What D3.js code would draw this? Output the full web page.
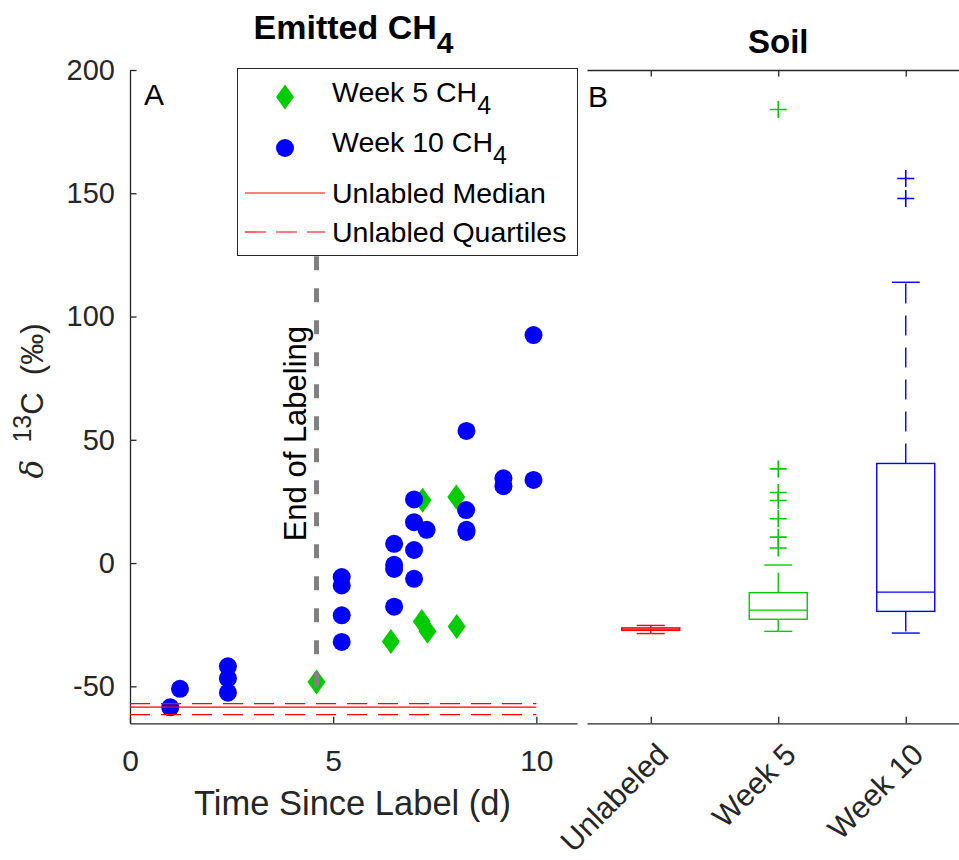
<!DOCTYPE html>
<html>
<head>
<meta charset="utf-8">
<script src="https://cdn.jsdelivr.net/npm/d3@7"></script>
<style>
  body { margin: 0; background: #fff; }
  text { font-family: Arial, "Liberation Sans", Helvetica, sans-serif; }
</style>
</head>
<body>
<script>
// emitted CH4, week 5 (days since label, d13C permil)
const week5Days = [4.59, 6.42, 7.18, 7.32, 8.04, 7.20, 8.03];
const week5D13C = [-48.2, -31.8, -23.7, -27.7, -25.7, 25.5, 26.8];

// emitted CH4, week 10
const week10Days = [0.99, 1.23, 2.41, 2.41, 2.41, 5.21, 5.21, 5.21, 5.21,
  6.50, 6.50, 6.50, 6.50, 6.99, 6.99, 6.99, 6.99, 7.30,
  8.28, 8.27, 8.28, 8.28, 9.19, 9.19, 9.93, 9.93];
const week10D13C = [-58.5, -51.0, -41.9, -46.8, -52.6, -5.7, -9.1, -21.2, -32.0,
  7.8, -0.7, -2.4, -17.7, 25.8, 16.6, 5.3, -6.4, 13.5,
  53.6, 21.5, 13.5, 12.6, 34.4, 31.2, 33.7, 92.5];

// unlabeled reference lines
const unlabeledMedian = -58.4;
const unlabeledQuartiles = [-57.0, -61.5];
const endOfLabeling = 4.59;

const xTicksA = [0, 5, 10];
const yTicks = [-50, 0, 50, 100, 150, 200];

// soil boxplots
const soilGroups = ["Unlabeled", "Week 5", "Week 10"];
const soilLowWhisker = [-28.6, -27.7, -28.4];
const soilQ1 = [-27.3, -22.8, -19.6];
const soilMedian = [-26.8, -19.1, -11.8];
const soilQ3 = [-26.3, -12.0, 40.4];
const soilHighWhisker = [-25.3, -0.8, 113.9];
const soilOutliers = [[], [184.0, 38.2, 28.6, 25.4, 18.0, 10.5, 6.1], [156.0, 147.9]];

const soilColors = ["#ff0000", "#00cc00", "#0000ff"];
const axisColor = "#262626";

let width = 959, height = 860;

const svg = d3.select("body").append("svg")
    .attr("width", width)
    .attr("height", height);

svg.append("rect").attr("width", width).attr("height", height).attr("fill", "#fff");

const x = d3.scaleLinear().domain([0, 11]).range([130, 577]);
const y = d3.scaleLinear().domain([-65, 200]).range([723.3, 70]);
const xb = d3.scaleLinear().domain([0.5, 3.5]).range([587, 969.5]);

// marker shapes
const diamond = { draw(ctx, r) {
  ctx.moveTo(0, -r); ctx.lineTo(r * 0.72, 0); ctx.lineTo(0, r); ctx.lineTo(-r * 0.72, 0); ctx.closePath();
}};
const plus = { draw(ctx, r) {
  ctx.moveTo(-r, 0); ctx.lineTo(r, 0); ctx.moveTo(0, -r); ctx.lineTo(0, r);
}};

function styleAxis(g, fs) {
  g.selectAll("path, line").attr("stroke", axisColor).attr("stroke-width", 1.3);
  g.selectAll("text").attr("fill", axisColor).attr("font-size", fs)
    .attr("font-family", "Arial, 'Liberation Sans', sans-serif");
}

// ---------- panel A ----------
svg.append("g")
    .attr("transform", `translate(${x(0)},0)`)
    .call(d3.axisLeft(y).tickValues(yTicks).tickSizeInner(-6.5).tickSizeOuter(0)
      .tickPadding(15).tickFormat(d => String(d)))
    .call(g => styleAxis(g, 29));

svg.append("g")
    .attr("transform", `translate(0,${y(-65)})`)
    .call(d3.axisBottom(x).tickValues(xTicksA).tickSizeInner(-6.5).tickSizeOuter(0)
      .tickPadding(26).tickFormat(d => String(d)))
    .call(g => styleAxis(g, 30));

// week 5 diamonds
svg.append("g").selectAll("path")
  .data(week5Days)
  .join("path")
    .attr("transform", (d, i) => `translate(${x(d)},${y(week5D13C[i])})`)
    .attr("d", d3.symbol().type(diamond).size(12.5))
    .attr("fill", "#00cc00");

// week 10 circles
svg.append("g").selectAll("circle")
  .data(week10Days)
  .join("circle")
    .attr("cx", d => x(d))
    .attr("cy", (d, i) => y(week10D13C[i]))
    .attr("r", 9)
    .attr("fill", "#0000ff");

// unlabeled median & quartiles
svg.append("line")
    .attr("x1", x(0)).attr("x2", x(10))
    .attr("y1", y(unlabeledMedian)).attr("y2", y(unlabeledMedian))
    .attr("stroke", "#ff0000").attr("stroke-width", 1.2);
svg.append("g").selectAll("line")
  .data(unlabeledQuartiles)
  .join("line")
    .attr("x1", x(0)).attr("x2", x(10))
    .attr("y1", d => y(d)).attr("y2", d => y(d))
    .attr("stroke", "#ff0000").attr("stroke-width", 1.2)
    .attr("stroke-dasharray", "20,11");

// end of labeling
svg.append("line")
    .attr("x1", x(endOfLabeling)).attr("x2", x(endOfLabeling))
    .attr("y1", y(-50)).attr("y2", y(200))
    .attr("stroke", "#808080").attr("stroke-width", 5)
    .attr("stroke-dasharray", "14,18");

svg.append("text")
    .attr("transform", `translate(${x(endOfLabeling) - 11},${y(8.8)}) rotate(-90)`)
    .attr("font-size", 31)
    .attr("fill", "#000")
    .text("End of Labeling");

svg.append("text").attr("x", 144).attr("y", 105).attr("font-size", 30).text("A");

// titles
const t1 = svg.append("text")
    .attr("x", (x(0) + x(11)) / 2).attr("y", 39)
    .attr("text-anchor", "middle").attr("font-size", 34).attr("font-weight", "bold");
t1.append("tspan").text("Emitted CH");
t1.append("tspan").attr("dy", 14).attr("font-size", 30).text("4");

svg.append("text")
    .attr("x", (xb(0.5) + xb(3.5)) / 2).attr("y", 53)
    .attr("text-anchor", "middle").attr("font-size", 33).attr("font-weight", "bold")
    .text("Soil");

// axis labels
svg.append("text")
    .attr("x", (x(0) + x(11)) / 2 - 1).attr("y", 815)
    .attr("text-anchor", "middle").attr("font-size", 34.5).attr("fill", axisColor)
    .text("Time Since Label (d)");

const yl = svg.append("text")
    .attr("transform", "translate(43,401) rotate(-90)")
    .attr("text-anchor", "middle").attr("font-size", 31).attr("fill", axisColor)
    .attr("xml:space", "preserve");
yl.append("tspan").attr("font-style", "italic").attr("font-family", "'DejaVu Serif', serif").text("δ");
yl.append("tspan").text("  ");
yl.append("tspan").attr("dy", -12).attr("font-size", 25).text("13");
yl.append("tspan").attr("dy", 12).text("C  (‰)");

// legend
const lg = svg.append("g");
lg.append("rect")
    .attr("x", 237.5).attr("y", 68.5).attr("width", 340).attr("height", 187)
    .attr("fill", "#fff").attr("stroke", axisColor).attr("stroke-width", 1);
lg.append("path")
    .attr("transform", "translate(285,97)")
    .attr("d", d3.symbol().type(diamond).size(12.5))
    .attr("fill", "#00cc00");
lg.append("circle").attr("cx", 285).attr("cy", 148).attr("r", 9).attr("fill", "#0000ff");
lg.append("line").attr("x1", 245).attr("x2", 325).attr("y1", 193).attr("y2", 193)
    .attr("stroke", "#ff0000").attr("stroke-width", 1.2);
lg.append("line").attr("x1", 245).attr("x2", 325).attr("y1", 232).attr("y2", 232)
    .attr("stroke", "#ff0000").attr("stroke-width", 1.2).attr("stroke-dasharray", "21,10");

const legendRows = [["Week 5 CH", "4", 102], ["Week 10 CH", "4", 152],
  ["Unlabled Median", "", 203], ["Unlabled Quartiles", "", 242]];
legendRows.forEach(r => {
  const t = lg.append("text").attr("x", 332).attr("y", r[2]).attr("font-size", 28.5).attr("fill", "#000");
  t.append("tspan").text(r[0]);
  if (r[1]) t.append("tspan").attr("dy", 12).attr("font-size", 25).text(r[1]);
});

// ---------- panel B ----------
svg.append("g")
    .attr("transform", `translate(0,${y(200)})`)
    .call(d3.axisTop(xb).tickValues([1, 2, 3]).tickSizeInner(-6.5).tickSizeOuter(0).tickFormat(""))
    .call(g => styleAxis(g, 29));

svg.append("g")
    .attr("transform", `translate(0,${y(-65)})`)
    .call(d3.axisBottom(xb).tickValues([1, 2, 3]).tickSizeInner(-6.5).tickSizeOuter(0).tickFormat(""))
    .call(g => styleAxis(g, 29));

svg.append("g").selectAll("text")
  .data(soilGroups)
  .join("text")
    .attr("transform", (d, i) => `translate(${xb(i + 1) + 4},741) rotate(-45)`)
    .attr("text-anchor", "end")
    .attr("dy", "0.72em")
    .attr("font-size", 30.5)
    .attr("fill", axisColor)
    .text(d => d);

svg.append("text").attr("x", 588).attr("y", 107).attr("font-size", 30).text("B");

const boxHalf = 29, capHalf = 14;
const boxes = svg.append("g").selectAll("g")
  .data(soilGroups)
  .join("g")
    .attr("stroke", (d, i) => soilColors[i])
    .attr("stroke-width", 1.4)
    .attr("fill", "none");

boxes.append("line")
    .attr("x1", (d, i) => xb(i + 1)).attr("x2", (d, i) => xb(i + 1))
    .attr("y1", (d, i) => y(soilQ3[i])).attr("y2", (d, i) => y(soilHighWhisker[i]))
    .attr("stroke-dasharray", "20,12");
boxes.append("line")
    .attr("x1", (d, i) => xb(i + 1)).attr("x2", (d, i) => xb(i + 1))
    .attr("y1", (d, i) => y(soilQ1[i])).attr("y2", (d, i) => y(soilLowWhisker[i]))
    .attr("stroke-dasharray", "20,12");
boxes.append("line")
    .attr("x1", (d, i) => xb(i + 1) - capHalf).attr("x2", (d, i) => xb(i + 1) + capHalf)
    .attr("y1", (d, i) => y(soilHighWhisker[i])).attr("y2", (d, i) => y(soilHighWhisker[i]));
boxes.append("line")
    .attr("x1", (d, i) => xb(i + 1) - capHalf).attr("x2", (d, i) => xb(i + 1) + capHalf)
    .attr("y1", (d, i) => y(soilLowWhisker[i])).attr("y2", (d, i) => y(soilLowWhisker[i]));
boxes.append("rect")
    .attr("x", (d, i) => xb(i + 1) - boxHalf)
    .attr("width", boxHalf * 2)
    .attr("y", (d, i) => y(soilQ3[i]))
    .attr("height", (d, i) => y(soilQ1[i]) - y(soilQ3[i]));
boxes.append("line")
    .attr("x1", (d, i) => xb(i + 1) - boxHalf).attr("x2", (d, i) => xb(i + 1) + boxHalf)
    .attr("y1", (d, i) => y(soilMedian[i])).attr("y2", (d, i) => y(soilMedian[i]));

boxes.each(function(d, i) {
  d3.select(this).selectAll("path.out")
    .data(soilOutliers[i])
    .join("path")
      .attr("class", "out")
      .attr("transform", v => `translate(${xb(i + 1)},${y(v)})`)
      .attr("d", d3.symbol().type(plus).size(8.5))
      .attr("stroke-width", 1.6);
});
</script>
</body>
</html>
